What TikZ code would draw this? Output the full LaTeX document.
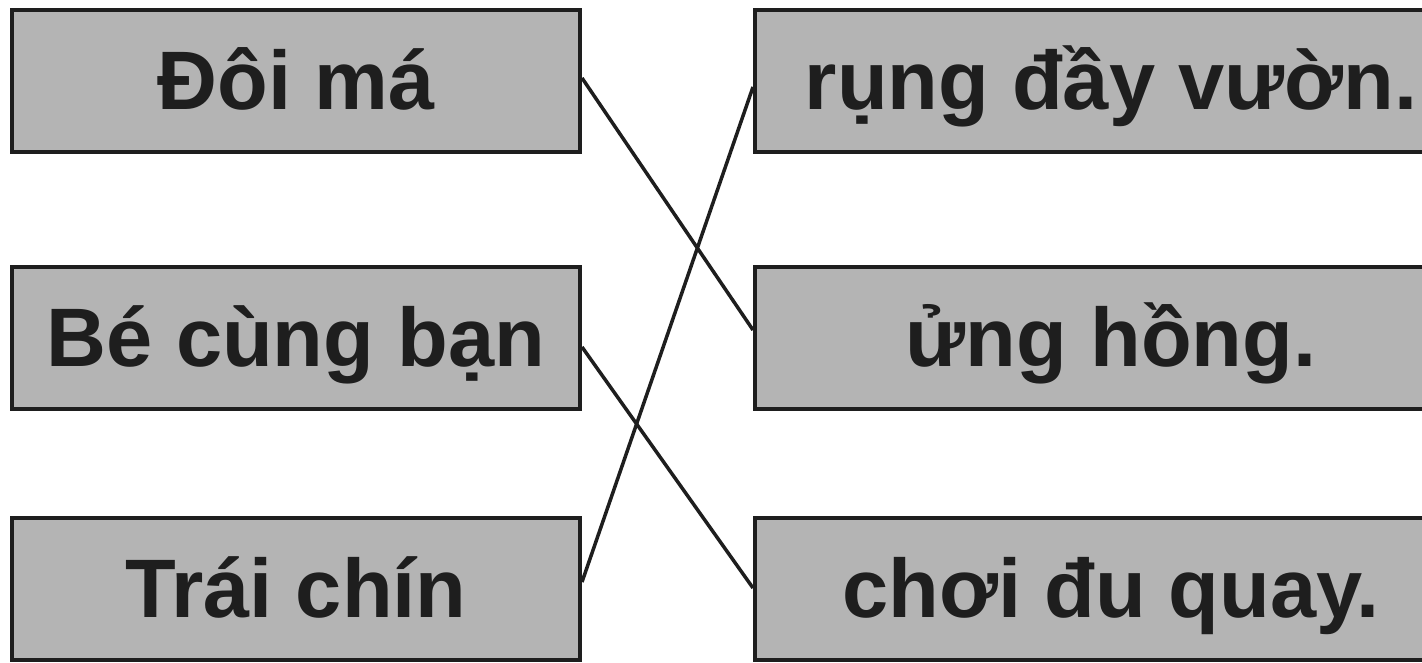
\documentclass[tikz,border=0pt]{standalone}
\usepackage{fontspec}
\setmainfont{Liberation Sans}
\definecolor{boxgray}{RGB}{180,180,180}
\definecolor{ink}{RGB}{30,30,30}
\begin{document}
\begin{tikzpicture}[x=1pt,y=1pt,
  card/.style={draw=ink,line width=4pt,fill=boxgray,rectangle,inner sep=0pt,
    minimum height=142pt,text height=58pt,text depth=0pt,
    font=\fontsize{83}{96}\selectfont\bfseries,text=ink},
  leftcard/.style={card,minimum width=568pt},
  rightcard/.style={card,minimum width=712pt},
  link/.style={draw=ink,line width=3.5pt}]
\useasboundingbox (0,0) rectangle (1422,663);
\begin{scope}
\clip (0,0) rectangle (1422,663);
\node[leftcard] (L1) at (296,582) {Đôi má};
\node[leftcard] (L2) at (296,325) {Bé cùng bạn};
\node[leftcard] (L3) at (296,74) {Trái chín};
\node[rightcard] (R1) at (1111,582) {rụng đầy vườn.};
\node[rightcard] (R2) at (1111,325) {ửng hồng.};
\node[rightcard] (R3) at (1111,74) {chơi đu quay.};
\draw[link] ([yshift=3pt]L1.east) -- ([yshift=8pt]R2.west);
\draw[link] ([yshift=-9pt]L2.east) -- ([yshift=1pt]R3.west);
\draw[link] ([yshift=7pt]L3.east) -- ([yshift=-6pt]R1.west);
\end{scope}
\end{tikzpicture}
\end{document}
